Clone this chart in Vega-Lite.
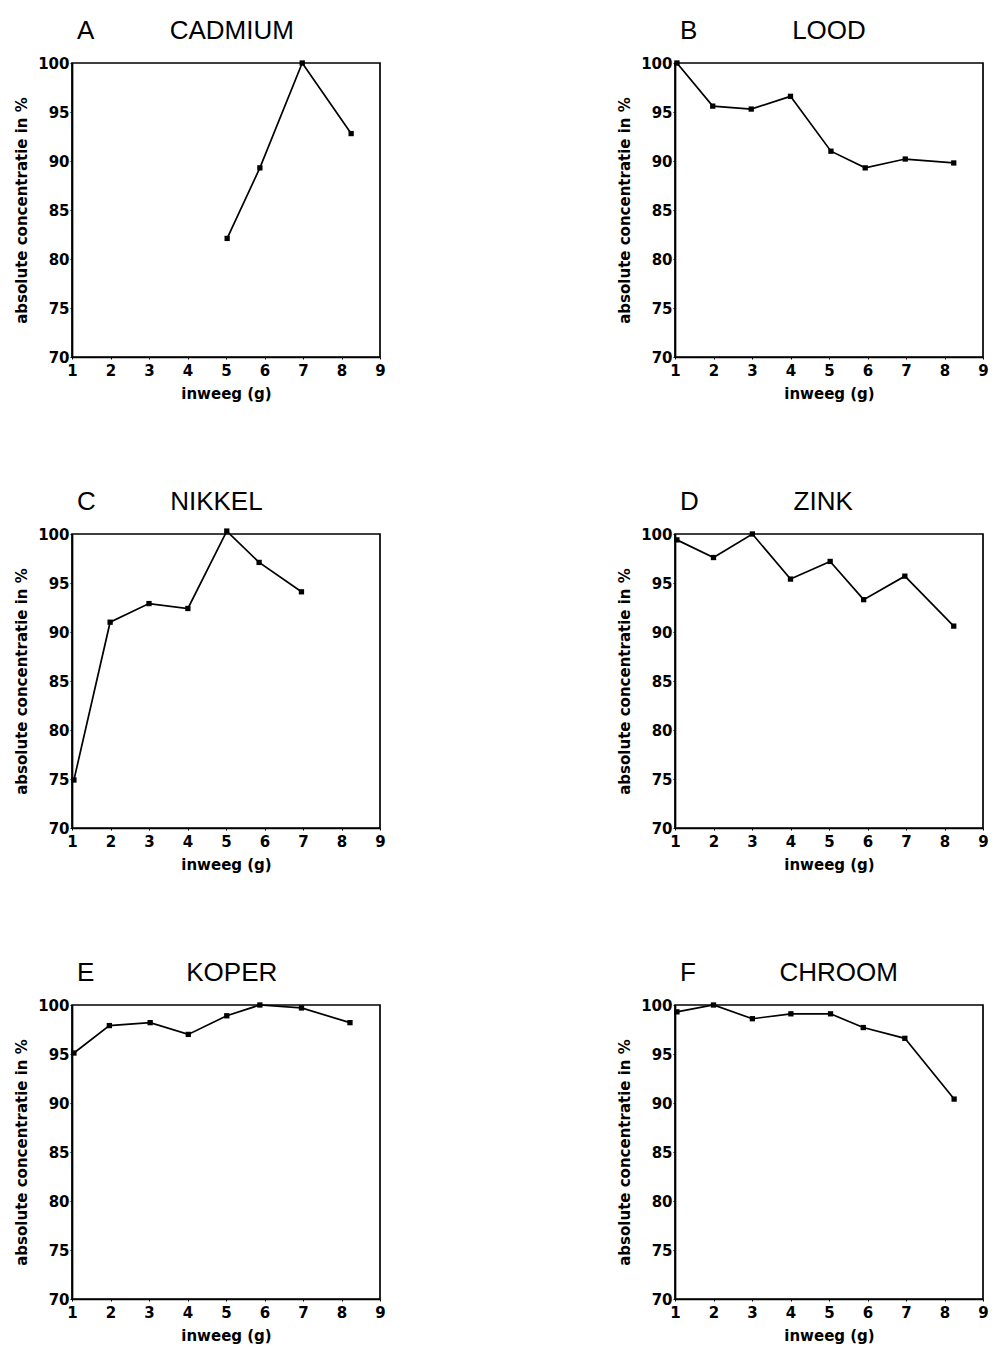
{
  "$schema": "https://vega.github.io/schema/vega-lite/v6.json",
  "background": "white",
  "padding": {"left": 13, "top": 17, "right": 4, "bottom": 4},
  "data": {
    "values": [
      {"panel": "A", "element": "CADMIUM", "inweeg": 5.03, "concentratie": 82.1},
      {"panel": "A", "element": "CADMIUM", "inweeg": 5.88, "concentratie": 89.3},
      {"panel": "A", "element": "CADMIUM", "inweeg": 6.98, "concentratie": 100.0},
      {"panel": "A", "element": "CADMIUM", "inweeg": 8.25, "concentratie": 92.8},
      {"panel": "B", "element": "LOOD", "inweeg": 1.05, "concentratie": 100.0},
      {"panel": "B", "element": "LOOD", "inweeg": 1.98, "concentratie": 95.6},
      {"panel": "B", "element": "LOOD", "inweeg": 2.98, "concentratie": 95.3},
      {"panel": "B", "element": "LOOD", "inweeg": 4.0, "concentratie": 96.6},
      {"panel": "B", "element": "LOOD", "inweeg": 5.05, "concentratie": 91.0},
      {"panel": "B", "element": "LOOD", "inweeg": 5.94, "concentratie": 89.3},
      {"panel": "B", "element": "LOOD", "inweeg": 6.98, "concentratie": 90.2},
      {"panel": "B", "element": "LOOD", "inweeg": 8.24, "concentratie": 89.8},
      {"panel": "C", "element": "NIKKEL", "inweeg": 1.05, "concentratie": 74.9},
      {"panel": "C", "element": "NIKKEL", "inweeg": 1.99, "concentratie": 91.0},
      {"panel": "C", "element": "NIKKEL", "inweeg": 3.0, "concentratie": 92.9},
      {"panel": "C", "element": "NIKKEL", "inweeg": 4.01, "concentratie": 92.4},
      {"panel": "C", "element": "NIKKEL", "inweeg": 5.02, "concentratie": 100.3},
      {"panel": "C", "element": "NIKKEL", "inweeg": 5.86, "concentratie": 97.1},
      {"panel": "C", "element": "NIKKEL", "inweeg": 6.96, "concentratie": 94.1},
      {"panel": "D", "element": "ZINK", "inweeg": 1.05, "concentratie": 99.4},
      {"panel": "D", "element": "ZINK", "inweeg": 2.0, "concentratie": 97.6},
      {"panel": "D", "element": "ZINK", "inweeg": 3.01, "concentratie": 100.0},
      {"panel": "D", "element": "ZINK", "inweeg": 4.0, "concentratie": 95.4},
      {"panel": "D", "element": "ZINK", "inweeg": 5.03, "concentratie": 97.2},
      {"panel": "D", "element": "ZINK", "inweeg": 5.9, "concentratie": 93.3},
      {"panel": "D", "element": "ZINK", "inweeg": 6.97, "concentratie": 95.7},
      {"panel": "D", "element": "ZINK", "inweeg": 8.24, "concentratie": 90.6},
      {"panel": "E", "element": "KOPER", "inweeg": 1.05, "concentratie": 95.1},
      {"panel": "E", "element": "KOPER", "inweeg": 1.97, "concentratie": 97.9},
      {"panel": "E", "element": "KOPER", "inweeg": 3.03, "concentratie": 98.2},
      {"panel": "E", "element": "KOPER", "inweeg": 4.02, "concentratie": 97.0},
      {"panel": "E", "element": "KOPER", "inweeg": 5.02, "concentratie": 98.9},
      {"panel": "E", "element": "KOPER", "inweeg": 5.88, "concentratie": 100.0},
      {"panel": "E", "element": "KOPER", "inweeg": 6.96, "concentratie": 99.7},
      {"panel": "E", "element": "KOPER", "inweeg": 8.22, "concentratie": 98.2},
      {"panel": "F", "element": "CHROOM", "inweeg": 1.05, "concentratie": 99.3},
      {"panel": "F", "element": "CHROOM", "inweeg": 2.0, "concentratie": 100.0},
      {"panel": "F", "element": "CHROOM", "inweeg": 3.01, "concentratie": 98.6},
      {"panel": "F", "element": "CHROOM", "inweeg": 4.01, "concentratie": 99.1},
      {"panel": "F", "element": "CHROOM", "inweeg": 5.04, "concentratie": 99.1},
      {"panel": "F", "element": "CHROOM", "inweeg": 5.89, "concentratie": 97.7},
      {"panel": "F", "element": "CHROOM", "inweeg": 6.97, "concentratie": 96.6},
      {"panel": "F", "element": "CHROOM", "inweeg": 8.25, "concentratie": 90.4}
    ]
  },
  "columns": 2,
  "spacing": {"row": 86, "column": 229},
  "concat": [
    {
      "width": 308, "height": 294,
      "transform": [{"filter": "datum.panel === 'A'"}],
      "encoding": {
        "x": {"field": "inweeg", "type": "quantitative", "scale": {"domain": [1, 9], "nice": false, "zero": false}, "axis": {"title": "inweeg (g)", "values": [1, 2, 3, 4, 5, 6, 7, 8, 9]}},
        "y": {"field": "concentratie", "type": "quantitative", "scale": {"domain": [70, 100], "nice": false, "zero": false}, "axis": {"title": "absolute concentratie in %", "values": [70, 75, 80, 85, 90, 95, 100]}}
      },
      "layer": [
        {"mark": {"type": "line", "color": "black", "strokeWidth": 1.7, "clip": false}},
        {"mark": {"type": "square", "color": "black", "filled": true, "opacity": 1, "size": 28, "clip": false}},
        {
          "transform": [{"window": [{"op": "row_number", "as": "rang"}]}, {"filter": "datum.rang === 1"}],
          "mark": {"type": "text", "align": "left", "baseline": "alphabetic", "font": "Liberation Sans", "fontSize": 26, "color": "black", "clip": false},
          "encoding": {"x": {"datum": 1.13, "type": "quantitative"}, "y": {"datum": 102.4, "type": "quantitative"}, "text": {"field": "panel"}}
        },
        {
          "transform": [{"window": [{"op": "row_number", "as": "rang"}]}, {"filter": "datum.rang === 1"}],
          "mark": {"type": "text", "align": "center", "baseline": "alphabetic", "font": "Liberation Sans", "fontSize": 26, "color": "black", "clip": false},
          "encoding": {"x": {"datum": 5.15, "type": "quantitative"}, "y": {"datum": 102.4, "type": "quantitative"}, "text": {"field": "element"}}
        }
      ]
    },
    {
      "width": 308, "height": 294,
      "transform": [{"filter": "datum.panel === 'B'"}],
      "encoding": {
        "x": {"field": "inweeg", "type": "quantitative", "scale": {"domain": [1, 9], "nice": false, "zero": false}, "axis": {"title": "inweeg (g)", "values": [1, 2, 3, 4, 5, 6, 7, 8, 9]}},
        "y": {"field": "concentratie", "type": "quantitative", "scale": {"domain": [70, 100], "nice": false, "zero": false}, "axis": {"title": "absolute concentratie in %", "values": [70, 75, 80, 85, 90, 95, 100]}}
      },
      "layer": [
        {"mark": {"type": "line", "color": "black", "strokeWidth": 1.7, "clip": false}},
        {"mark": {"type": "square", "color": "black", "filled": true, "opacity": 1, "size": 28, "clip": false}},
        {
          "transform": [{"window": [{"op": "row_number", "as": "rang"}]}, {"filter": "datum.rang === 1"}],
          "mark": {"type": "text", "align": "left", "baseline": "alphabetic", "font": "Liberation Sans", "fontSize": 26, "color": "black", "clip": false},
          "encoding": {"x": {"datum": 1.13, "type": "quantitative"}, "y": {"datum": 102.4, "type": "quantitative"}, "text": {"field": "panel"}}
        },
        {
          "transform": [{"window": [{"op": "row_number", "as": "rang"}]}, {"filter": "datum.rang === 1"}],
          "mark": {"type": "text", "align": "center", "baseline": "alphabetic", "font": "Liberation Sans", "fontSize": 26, "color": "black", "clip": false},
          "encoding": {"x": {"datum": 5.0, "type": "quantitative"}, "y": {"datum": 102.4, "type": "quantitative"}, "text": {"field": "element"}}
        }
      ]
    },
    {
      "width": 308, "height": 294,
      "transform": [{"filter": "datum.panel === 'C'"}],
      "encoding": {
        "x": {"field": "inweeg", "type": "quantitative", "scale": {"domain": [1, 9], "nice": false, "zero": false}, "axis": {"title": "inweeg (g)", "values": [1, 2, 3, 4, 5, 6, 7, 8, 9]}},
        "y": {"field": "concentratie", "type": "quantitative", "scale": {"domain": [70, 100], "nice": false, "zero": false}, "axis": {"title": "absolute concentratie in %", "values": [70, 75, 80, 85, 90, 95, 100]}}
      },
      "layer": [
        {"mark": {"type": "line", "color": "black", "strokeWidth": 1.7, "clip": false}},
        {"mark": {"type": "square", "color": "black", "filled": true, "opacity": 1, "size": 28, "clip": false}},
        {
          "transform": [{"window": [{"op": "row_number", "as": "rang"}]}, {"filter": "datum.rang === 1"}],
          "mark": {"type": "text", "align": "left", "baseline": "alphabetic", "font": "Liberation Sans", "fontSize": 26, "color": "black", "clip": false},
          "encoding": {"x": {"datum": 1.13, "type": "quantitative"}, "y": {"datum": 102.4, "type": "quantitative"}, "text": {"field": "panel"}}
        },
        {
          "transform": [{"window": [{"op": "row_number", "as": "rang"}]}, {"filter": "datum.rang === 1"}],
          "mark": {"type": "text", "align": "center", "baseline": "alphabetic", "font": "Liberation Sans", "fontSize": 26, "color": "black", "clip": false},
          "encoding": {"x": {"datum": 4.75, "type": "quantitative"}, "y": {"datum": 102.4, "type": "quantitative"}, "text": {"field": "element"}}
        }
      ]
    },
    {
      "width": 308, "height": 294,
      "transform": [{"filter": "datum.panel === 'D'"}],
      "encoding": {
        "x": {"field": "inweeg", "type": "quantitative", "scale": {"domain": [1, 9], "nice": false, "zero": false}, "axis": {"title": "inweeg (g)", "values": [1, 2, 3, 4, 5, 6, 7, 8, 9]}},
        "y": {"field": "concentratie", "type": "quantitative", "scale": {"domain": [70, 100], "nice": false, "zero": false}, "axis": {"title": "absolute concentratie in %", "values": [70, 75, 80, 85, 90, 95, 100]}}
      },
      "layer": [
        {"mark": {"type": "line", "color": "black", "strokeWidth": 1.7, "clip": false}},
        {"mark": {"type": "square", "color": "black", "filled": true, "opacity": 1, "size": 28, "clip": false}},
        {
          "transform": [{"window": [{"op": "row_number", "as": "rang"}]}, {"filter": "datum.rang === 1"}],
          "mark": {"type": "text", "align": "left", "baseline": "alphabetic", "font": "Liberation Sans", "fontSize": 26, "color": "black", "clip": false},
          "encoding": {"x": {"datum": 1.13, "type": "quantitative"}, "y": {"datum": 102.4, "type": "quantitative"}, "text": {"field": "panel"}}
        },
        {
          "transform": [{"window": [{"op": "row_number", "as": "rang"}]}, {"filter": "datum.rang === 1"}],
          "mark": {"type": "text", "align": "center", "baseline": "alphabetic", "font": "Liberation Sans", "fontSize": 26, "color": "black", "clip": false},
          "encoding": {"x": {"datum": 4.85, "type": "quantitative"}, "y": {"datum": 102.4, "type": "quantitative"}, "text": {"field": "element"}}
        }
      ]
    },
    {
      "width": 308, "height": 294,
      "transform": [{"filter": "datum.panel === 'E'"}],
      "encoding": {
        "x": {"field": "inweeg", "type": "quantitative", "scale": {"domain": [1, 9], "nice": false, "zero": false}, "axis": {"title": "inweeg (g)", "values": [1, 2, 3, 4, 5, 6, 7, 8, 9]}},
        "y": {"field": "concentratie", "type": "quantitative", "scale": {"domain": [70, 100], "nice": false, "zero": false}, "axis": {"title": "absolute concentratie in %", "values": [70, 75, 80, 85, 90, 95, 100]}}
      },
      "layer": [
        {"mark": {"type": "line", "color": "black", "strokeWidth": 1.7, "clip": false}},
        {"mark": {"type": "square", "color": "black", "filled": true, "opacity": 1, "size": 28, "clip": false}},
        {
          "transform": [{"window": [{"op": "row_number", "as": "rang"}]}, {"filter": "datum.rang === 1"}],
          "mark": {"type": "text", "align": "left", "baseline": "alphabetic", "font": "Liberation Sans", "fontSize": 26, "color": "black", "clip": false},
          "encoding": {"x": {"datum": 1.13, "type": "quantitative"}, "y": {"datum": 102.4, "type": "quantitative"}, "text": {"field": "panel"}}
        },
        {
          "transform": [{"window": [{"op": "row_number", "as": "rang"}]}, {"filter": "datum.rang === 1"}],
          "mark": {"type": "text", "align": "center", "baseline": "alphabetic", "font": "Liberation Sans", "fontSize": 26, "color": "black", "clip": false},
          "encoding": {"x": {"datum": 5.15, "type": "quantitative"}, "y": {"datum": 102.4, "type": "quantitative"}, "text": {"field": "element"}}
        }
      ]
    },
    {
      "width": 308, "height": 294,
      "transform": [{"filter": "datum.panel === 'F'"}],
      "encoding": {
        "x": {"field": "inweeg", "type": "quantitative", "scale": {"domain": [1, 9], "nice": false, "zero": false}, "axis": {"title": "inweeg (g)", "values": [1, 2, 3, 4, 5, 6, 7, 8, 9]}},
        "y": {"field": "concentratie", "type": "quantitative", "scale": {"domain": [70, 100], "nice": false, "zero": false}, "axis": {"title": "absolute concentratie in %", "values": [70, 75, 80, 85, 90, 95, 100]}}
      },
      "layer": [
        {"mark": {"type": "line", "color": "black", "strokeWidth": 1.7, "clip": false}},
        {"mark": {"type": "square", "color": "black", "filled": true, "opacity": 1, "size": 28, "clip": false}},
        {
          "transform": [{"window": [{"op": "row_number", "as": "rang"}]}, {"filter": "datum.rang === 1"}],
          "mark": {"type": "text", "align": "left", "baseline": "alphabetic", "font": "Liberation Sans", "fontSize": 26, "color": "black", "clip": false},
          "encoding": {"x": {"datum": 1.13, "type": "quantitative"}, "y": {"datum": 102.4, "type": "quantitative"}, "text": {"field": "panel"}}
        },
        {
          "transform": [{"window": [{"op": "row_number", "as": "rang"}]}, {"filter": "datum.rang === 1"}],
          "mark": {"type": "text", "align": "center", "baseline": "alphabetic", "font": "Liberation Sans", "fontSize": 26, "color": "black", "clip": false},
          "encoding": {"x": {"datum": 5.25, "type": "quantitative"}, "y": {"datum": 102.4, "type": "quantitative"}, "text": {"field": "element"}}
        }
      ]
    }
  ],
  "config": {
    "view": {"stroke": "black", "strokeWidth": 1.7},
    "axis": {
      "grid": false,
      "domainColor": "black",
      "domainWidth": 1.7,
      "ticks": true,
      "tickColor": "black",
      "tickSize": 2,
      "labelFont": "DejaVu Sans",
      "labelFontSize": 15,
      "labelFontWeight": "bold",
      "labelColor": "black",
      "labelPadding": 1,
      "labelFlush": false,
      "labelOverlap": false,
      "titleFont": "DejaVu Sans",
      "titleFontSize": 15,
      "titleFontWeight": "bold",
      "titleColor": "black"
    },
    "axisX": {"titlePadding": 8, "labelPadding": 4},
    "axisY": {"titlePadding": 8}
  }
}
